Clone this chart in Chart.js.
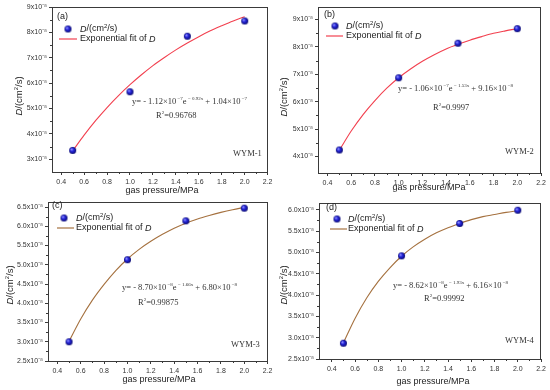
<!DOCTYPE html>
<html>
<head>
<meta charset="utf-8">
<script src="https://cdn.jsdelivr.net/npm/chart.js@4.4.1/dist/chart.umd.min.js"></script>
<style>
html,body{margin:0;padding:0;background:#fff;}
#wrap{position:relative;width:550px;height:390px;overflow:hidden;background:#fff;}
.pn{position:absolute;}
</style>
</head>
<body>
<div id="wrap">
  <div class="pn" style="left:0;top:0;width:275px;height:195px"><canvas id="cA"></canvas></div>
  <div class="pn" style="left:275px;top:0;width:275px;height:195px"><canvas id="cB"></canvas></div>
  <div class="pn" style="left:0;top:195px;width:275px;height:195px"><canvas id="cC"></canvas></div>
  <div class="pn" style="left:275px;top:195px;width:275px;height:195px"><canvas id="cD"></canvas></div>
</div>
<script>
// ---------------- DATA (D in units of 10^-8 cm^2/s) ----------------
const pressure = [0.5, 1.0, 1.5, 2.0];
const dWYM1 = [3.35, 5.66, 7.85, 8.45];
const dWYM2 = [4.24, 6.87, 8.13, 8.66];
const dWYM3 = [3.00, 5.13, 6.14, 6.47];
const dWYM4 = [2.87, 4.92, 5.68, 5.99];

const fitPressure = [0.5,0.6,0.7,0.8,0.9,1.0,1.1,1.2,1.3,1.4,1.5,1.6,1.7,1.8,1.9,2.0];
const fitWYM1 = [3.33,3.95,4.52,5.04,5.51,5.94,6.33,6.69,7.01,7.31,7.58,7.83,8.06,8.26,8.45,8.62];
const fitWYM2 = [4.23,4.93,5.53,6.04,6.49,6.87,7.19,7.47,7.71,7.92,8.09,8.24,8.37,8.49,8.58,8.66];
const fitWYM3 = [3.01,3.59,4.08,4.49,4.85,5.15,5.40,5.61,5.79,5.95,6.08,6.19,6.28,6.36,6.43,6.49];
const fitWYM4 = [2.88,3.45,3.93,4.32,4.64,4.91,5.13,5.31,5.46,5.58,5.68,5.77,5.84,5.89,5.94,5.98];

const xTickLabels = [0.4,0.6,0.8,1.0,1.2,1.4,1.6,1.8,2.0,2.2];
const yTicksA = [3,4,5,6,7,8,9];
const yTicksB = [4,5,6,7,8,9];
const yTicksC = [2.5,3.0,3.5,4.0,4.5,5.0,5.5,6.0,6.5];
const yTicksD = [2.5,3.0,3.5,4.0,4.5,5.0,5.5,6.0];

const panelLabels = ['(a)','(b)','(c)','(d)'];
const sampleNames = ['WYM-1','WYM-2','WYM-3','WYM-4'];
const eqA = ['1.12', '0.92x', '1.04', '7', '7', '0.96768'];
const eqB = ['1.06', '1.53x', '9.16', '7', '8', '0.9997'];
const eqC = ['8.70', '1.66x', '6.80', '8', '8', '0.99875'];
const eqD = ['8.62', '1.93x', '6.16', '8', '8', '0.99992'];

// ---------------- STYLE / LAYOUT ----------------
const SANS = 'Arial, "Liberation Sans", sans-serif';
const SERIF = '"Times New Roman", "Liberation Serif", serif';
const RED = '#f2404f';
const BROWN = '#a5713f';

// sphere marker sprite
function makeSphere(r){
  const c = document.createElement('canvas');
  const s = Math.ceil(r*2+2);
  c.width = s; c.height = s;
  const g = c.getContext('2d');
  const cx = s/2, cy = s/2;
  const grad = g.createRadialGradient(cx-r*0.35, cy-r*0.35, r*0.1, cx, cy, r);
  grad.addColorStop(0, '#8f8fff');
  grad.addColorStop(0.45, '#2424d8');
  grad.addColorStop(1, '#0a0a70');
  g.fillStyle = grad;
  g.beginPath(); g.arc(cx, cy, r, 0, Math.PI*2); g.fill();
  return c;
}
const sphere = makeSphere(3.5);

function drawRich(ctx, x, y, parts, align){
  let total = 0;
  parts.forEach(p => { ctx.font = p[1]; total += ctx.measureText(p[0]).width; });
  let cx = align === 'center' ? x - total/2 : x;
  ctx.textBaseline = 'middle';
  ctx.textAlign = 'left';
  parts.forEach(p => {
    ctx.font = p[1];
    ctx.fillText(p[0], cx, y + (p[2]||0));
    cx += ctx.measureText(p[0]).width;
  });
}

const annotPlugin = {
  id: 'annot',
  afterDraw(chart){
    const o = chart.options.plugins.annot;
    const ctx = chart.ctx;
    const ca = chart.chartArea;
    ctx.save();
    ctx.strokeStyle = '#3a3a3a';
    ctx.lineWidth = 1;
    ctx.strokeRect(Math.round(ca.left)+0.5, Math.round(ca.top)+0.5, Math.round(ca.right-ca.left)-1, Math.round(ca.bottom-ca.top));
    const xs = chart.scales.x, ys = chart.scales.y;
    const xt = xs.ticks.map(t=>t.value);
    for (let i=0;i<xt.length-1;i++){
      const px = Math.round(xs.getPixelForValue((xt[i]+xt[i+1])/2))+0.5;
      ctx.beginPath(); ctx.moveTo(px, ca.bottom); ctx.lineTo(px, ca.bottom+2); ctx.stroke();
    }
    const yt = ys.ticks.map(t=>t.value);
    for (let i=0;i<yt.length-1;i++){
      const py = Math.round(ys.getPixelForValue((yt[i]+yt[i+1])/2))+0.5;
      ctx.beginPath(); ctx.moveTo(ca.left, py); ctx.lineTo(ca.left-2, py); ctx.stroke();
    }
    ctx.fillStyle = '#222';
    ctx.font = '9px ' + SANS;
    ctx.textBaseline = 'middle'; ctx.textAlign = 'left';
    ctx.fillText(o.label, o.labelPos[0], o.labelPos[1]);
    ctx.drawImage(sphere, o.legPt[0]-sphere.width/2, o.legPt[1]-sphere.height/2);
    drawRich(ctx, o.legTx, o.legPt[1], [
      ['D', 'italic 9px ' + SANS, 0],
      ['/(cm', '9px ' + SANS, 0],
      ['2', '6px ' + SANS, -3],
      ['/s)', '9px ' + SANS, 0]
    ]);
    ctx.strokeStyle = o.lineColor; ctx.lineWidth = 1.2;
    ctx.beginPath(); ctx.moveTo(o.legLine[0], o.legLine[2]); ctx.lineTo(o.legLine[1], o.legLine[2]); ctx.stroke();
    drawRich(ctx, o.legTx, o.legLine[2], [
      ['Exponential fit of ', '9px ' + SANS, 0],
      ['D', 'italic 9px ' + SANS, 0]
    ]);
    ctx.fillStyle = '#333';
    const e = o.eq;
    drawRich(ctx, o.eqPos[0], o.eqPos[1], [
      ['y= - ' + e[0] + '\u00d710', '8.5px ' + SERIF, 0],
      [' \u2212' + e[3], '5px ' + SERIF, -3],
      ['e', '8.5px ' + SERIF, 0],
      [' \u2212 ' + e[1], '5px ' + SERIF, -3],
      [' + ' + e[2] + '\u00d710', '8.5px ' + SERIF, 0],
      [' \u2212' + e[4], '5px ' + SERIF, -3]
    ]);
    drawRich(ctx, o.r2Pos[0], o.r2Pos[1], [
      ['R', '8.5px ' + SERIF, 0],
      ['2', '5px ' + SERIF, -3],
      ['=' + e[5], '8.5px ' + SERIF, 0]
    ]);
    ctx.font = '8.5px ' + SERIF;
    ctx.textAlign = 'left'; ctx.textBaseline = 'middle';
    ctx.fillText(o.sample, o.samplePos[0], o.samplePos[1]);
    ctx.fillStyle = '#222';
    drawRich(ctx, o.xTitle[0], o.xTitle[1], [['gas pressure/MPa', '9px ' + SANS, 0]], 'center');
    ctx.translate(o.yTitle[0], o.yTitle[1]);
    ctx.rotate(-Math.PI/2);
    drawRich(ctx, 0, 0, [
      ['D', 'italic 9.5px ' + SANS, 0],
      ['/(cm', '9.5px ' + SANS, 0],
      ['2', '6px ' + SANS, -3],
      ['/s)', '9.5px ' + SANS, 0]
    ], 'center');
    ctx.restore();
  }
};

function sup(n){ return n + 'x10\u207b\u2078'; }

function makePanel(id, pts, fit, yTicks, cfg){
  const cv = document.getElementById(id);
  const W = 275, H = 195;
  return new Chart(cv, {
    type: 'scatter',
    data: {
      datasets: [
        { label: 'D', data: pressure.map((x,i)=>({x:x, y:pts[i]})), pointStyle: sphere, pointRadius: 4, showLine: false, order: 0 },
        { label: 'fit', data: fitPressure.map((x,i)=>({x:x, y:fit[i]})), showLine: true, pointRadius: 0,
          borderColor: cfg.lineColor, borderWidth: 1.1, cubicInterpolationMode: 'monotone', order: 1 }
      ]
    },
    options: {
      responsive: false,
      animation: false,
      devicePixelRatio: 1,
      layout: { autoPadding: false, padding: { top: cfg.area.t, right: W - cfg.area.r, left: 0, bottom: 0 } },
      plugins: { legend: { display: false }, tooltip: { enabled: false }, annot: cfg },
      scales: {
        x: {
          type: 'linear', min: cfg.xmin, max: 2.2,
          afterBuildTicks: s => { s.ticks = xTickLabels.map(v=>({value:v})); },
          afterFit: s => { s.height = H - cfg.area.b; },
          border: { display: true, color: '#3a3a3a', width: 1 },
          grid: { drawOnChartArea: false, drawTicks: true, tickLength: 3, color: '#3a3a3a' },
          ticks: { font: { size: 7, family: SANS }, color: '#333', padding: 2.5, maxRotation: 0, autoSkip: false, callback: v => v.toFixed(1) },
          title: { display: false }
        },
        y: {
          type: 'linear', min: cfg.ymin, max: cfg.ymax,
          afterBuildTicks: s => { s.ticks = yTicks.map(v=>({value:v})); },
          afterFit: s => { s.width = cfg.area.l; },
          border: { display: true, color: '#3a3a3a', width: 1 },
          grid: { drawOnChartArea: false, drawTicks: true, tickLength: 3, color: '#3a3a3a' },
          ticks: { font: { size: 7, family: SANS }, color: '#333', padding: 2, autoSkip: false, callback: v => sup(cfg.dec ? v.toFixed(1) : String(v)) },
          title: { display: false }
        }
      }
    },
    plugins: [annotPlugin]
  });
}

function sizeCanvas(id){ const c=document.getElementById(id); c.width=275; c.height=195; c.style.width='275px'; c.style.height='195px'; }
['cA','cB','cC','cD'].forEach(sizeCanvas);

makePanel('cA', dWYM1, fitWYM1, yTicksA, {
  area:{l:52,t:7,r:273,b:172}, xmin:0.32, ymin:2.5, ymax:9, dec:false, lineColor:RED,
  label:panelLabels[0], labelPos:[57,17], legPt:[68,29], legTx:80, legLine:[59,77,39],
  eq:eqA, eqPos:[132,102], r2Pos:[156,116], sample:sampleNames[0], samplePos:[233,154],
  xTitle:[162,191], yTitle:[19,96]
});
makePanel('cB', dWYM2, fitWYM2, yTicksB, {
  area:{l:43,t:7,r:266,b:173}, xmin:0.32, ymin:3.4, ymax:9.45, dec:false, lineColor:RED,
  label:panelLabels[1], labelPos:[49,15], legPt:[60,26], legTx:71, legLine:[51,68,36],
  eq:eqB, eqPos:[123,89], r2Pos:[158,108], sample:sampleNames[1], samplePos:[230,152],
  xTitle:[154,188], yTitle:[9,97]
});
makePanel('cC', dWYM3, fitWYM3, yTicksC, {
  area:{l:48,t:7,r:273,b:166}, xmin:0.32, ymin:2.5, ymax:6.63, dec:true, lineColor:BROWN,
  label:panelLabels[2], labelPos:[52,11], legPt:[64,23], legTx:76, legLine:[57,74,33],
  eq:eqC, eqPos:[122,93], r2Pos:[138,108], sample:sampleNames[2], samplePos:[231,150],
  xTitle:[159,185], yTitle:[10,90]
});
makePanel('cD', dWYM4, fitWYM4, yTicksD, {
  area:{l:44,t:8,r:266,b:164}, xmin:0.29, ymin:2.5, ymax:6.16, dec:true, lineColor:BROWN,
  label:panelLabels[3], labelPos:[51,13], legPt:[62,24], legTx:73, legLine:[55,72,34],
  eq:eqD, eqPos:[118,91], r2Pos:[149,104], sample:sampleNames[3], samplePos:[230,146],
  xTitle:[158,187], yTitle:[9,90]
});
</script>
</body>
</html>
